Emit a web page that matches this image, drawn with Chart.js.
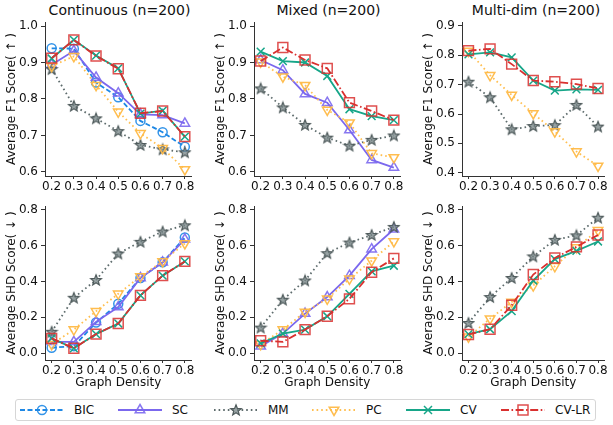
<!DOCTYPE html>
<html><head><meta charset="utf-8">
<script src="https://cdn.jsdelivr.net/npm/chart.js@4"></script>
<style>
body{margin:0;background:#fff;}
#wrap{position:relative;width:613px;height:425px;background:#fff;font-family:"DejaVu Sans",sans-serif;color:#111;overflow:hidden}
canvas{position:absolute}
.title{position:absolute;top:2px;font-size:14px;line-height:16px;white-space:nowrap;transform:translateX(-50%);color:#111}
#legend{position:absolute;left:15px;top:399px;width:581px;height:22px;border:1px solid #d6d6d6;border-radius:3px;box-sizing:border-box}
.lg{position:absolute;top:0;height:20px;display:flex;align-items:center;font-size:12px;color:#111;white-space:nowrap}
.lg svg{margin-right:10px}
</style>
</head><body>
<div id="wrap">
  <div class="title" style="left:119.5px">Continuous (n=200)</div>
  <div class="title" style="left:328.5px">Mixed (n=200)</div>
  <div class="title" style="left:536px">Multi-dim (n=200)</div>
  <canvas id="c1" width="200" height="196" style="left:0;top:0"></canvas>
  <canvas id="c2" width="200" height="196" style="left:209px;top:0"></canvas>
  <canvas id="c3" width="196" height="196" style="left:417px;top:0"></canvas>
  <canvas id="c4" width="200" height="196" style="left:0;top:196px"></canvas>
  <canvas id="c5" width="200" height="196" style="left:209px;top:196px"></canvas>
  <canvas id="c6" width="196" height="196" style="left:417px;top:196px"></canvas>
  <div id="legend"></div>
</div>
<script>
// ---------- data ----------
const densities = [0.2, 0.3, 0.4, 0.5, 0.6, 0.7, 0.8];
const xTickLabels = ['0.2', '0.3', '0.4', '0.5', '0.6', '0.7', '0.8'];
const methods = ['BIC', 'SC', 'MM', 'PC', 'CV', 'CV-LR'];

const f1TicksA = [0.6, 0.7, 0.8, 0.9, 1.0];
const f1TicksB = [0.4, 0.5, 0.6, 0.7, 0.8, 0.9];
const shdTicks = [0.0, 0.2, 0.4, 0.6, 0.8];

// Continuous F1
const contF1_BIC  = [0.939, 0.938, 0.845, 0.805, 0.740, 0.709, 0.669];
const contF1_SC   = [0.894, 0.932, 0.859, 0.816, 0.758, 0.756, 0.733];
const contF1_MM   = [0.882, 0.781, 0.747, 0.712, 0.674, 0.662, 0.654];
const contF1_PC   = [0.890, 0.917, 0.838, 0.765, 0.706, 0.665, 0.607];
const contF1_CV   = [0.911, 0.962, 0.919, 0.884, 0.760, 0.768, 0.697];
const contF1_CVLR = [0.912, 0.962, 0.918, 0.883, 0.761, 0.767, 0.697];
// Mixed F1
const mixF1_SC   = [0.907, 0.879, 0.814, 0.790, 0.715, 0.633, 0.612];
const mixF1_MM   = [0.829, 0.777, 0.729, 0.694, 0.672, 0.688, 0.700];
const mixF1_PC   = [0.902, 0.861, 0.838, 0.770, 0.735, 0.651, 0.640];
const mixF1_CV   = [0.930, 0.904, 0.900, 0.863, 0.772, 0.753, 0.742];
const mixF1_CVLR = [0.904, 0.941, 0.907, 0.884, 0.790, 0.767, 0.742];
// Multi-dim F1
const multiF1_MM   = [0.710, 0.657, 0.548, 0.559, 0.562, 0.631, 0.557];
const multiF1_PC   = [0.815, 0.732, 0.665, 0.602, 0.540, 0.472, 0.423];
const multiF1_CV   = [0.803, 0.810, 0.793, 0.714, 0.680, 0.684, 0.682];
const multiF1_CVLR = [0.816, 0.822, 0.770, 0.714, 0.710, 0.702, 0.687];
// Continuous SHD
const contSHD_BIC  = [0.031, 0.040, 0.171, 0.276, 0.419, 0.506, 0.644];
const contSHD_SC   = [0.064, 0.064, 0.175, 0.257, 0.419, 0.506, 0.634];
const contSHD_MM   = [0.120, 0.309, 0.408, 0.555, 0.620, 0.677, 0.712];
const contSHD_PC   = [0.050, 0.132, 0.234, 0.331, 0.427, 0.511, 0.611];
const contSHD_CV   = [0.083, 0.028, 0.107, 0.166, 0.322, 0.432, 0.511];
const contSHD_CVLR = [0.083, 0.028, 0.107, 0.166, 0.322, 0.432, 0.511];
// Mixed SHD
const mixSHD_SC   = [0.040, 0.110, 0.221, 0.313, 0.432, 0.579, 0.690];
const mixSHD_MM   = [0.143, 0.298, 0.405, 0.557, 0.616, 0.658, 0.703];
const mixSHD_PC   = [0.050, 0.132, 0.230, 0.303, 0.414, 0.515, 0.622];
const mixSHD_CV   = [0.055, 0.110, 0.132, 0.206, 0.331, 0.456, 0.487];
const mixSHD_CVLR = [0.070, 0.064, 0.132, 0.206, 0.303, 0.451, 0.528];
// Multi-dim SHD
const multiSHD_MM   = [0.169, 0.313, 0.419, 0.539, 0.631, 0.656, 0.754];
const multiSHD_PC   = [0.092, 0.193, 0.285, 0.377, 0.484, 0.589, 0.684];
const multiSHD_CV   = [0.107, 0.134, 0.235, 0.405, 0.524, 0.570, 0.622];
const multiSHD_CVLR = [0.105, 0.134, 0.267, 0.438, 0.530, 0.592, 0.658];

// ---------- styles ----------
const FONT = '"DejaVu Sans", sans-serif';
const STAR_FILL = 'rgba(118,132,133,0.75)';
const STAR_EDGE = '#4f5b5c';
function starCanvas(){
  const c = document.createElement('canvas'); c.width = 14; c.height = 14;
  const g = c.getContext('2d');
  g.beginPath();
  for (let i = 0; i < 10; i++) {
    const r = i % 2 === 0 ? 5.6 : 2.4;
    const a = -Math.PI/2 + i*Math.PI/5;
    const px = 7 + r*Math.cos(a), py = 7.4 + r*Math.sin(a);
    i === 0 ? g.moveTo(px, py) : g.lineTo(px, py);
  }
  g.closePath();
  g.fillStyle = STAR_FILL; g.fill();
  g.lineWidth = 1.2; g.strokeStyle = STAR_EDGE; g.stroke();
  return c;
}
const STAR = starCanvas();
const styles = {
  'BIC':   {color:'#1e88e5', pcolor:'rgba(30,136,229,0.9)',  dash:[5,2.5],          point:'circle',   r:4.5, rot:0},
  'SC':    {color:'#7b68ee', pcolor:'rgba(123,104,238,0.9)', dash:[],               point:'triangle', r:5.5, rot:0},
  'MM':    {color:'#5d6b6c', pcolor:STAR_EDGE,               dash:[1.6,3],          point:STAR,       r:6,   rot:0},
  'PC':    {color:'#ffbf50', pcolor:'rgba(255,185,70,0.95)', dash:[1.6,3],          point:'triangle', r:5.5, rot:180},
  'CV':    {color:'#17a689', pcolor:'#17a689',               dash:[],               point:'crossRot', r:5.5, rot:0},
  'CV-LR': {color:'#d9302f', pcolor:'rgba(217,48,47,0.85)',  dash:[8,2.5,1.6,2.5],  point:'rect',     r:7,   rot:0},
};

function makeChart(id, series, yMin, yMax, yTicks, yLabel, xTitle, rightPad, topPad, xAxisH){
  const datasets = series.map(([name, vals]) => {
    const s = styles[name];
    return {
      label: name,
      data: densities.map((d, i) => ({x: d, y: vals[i]})),
      borderColor: s.color, borderWidth: 1.8, borderDash: s.dash,
      pointStyle: s.point, pointRadius: s.r, pointRotation: s.rot,
      pointBorderColor: s.pcolor, pointBackgroundColor: 'rgba(0,0,0,0)', pointBorderWidth: 1.5,
      fill: false, tension: 0, order: 10 - methods.indexOf(name)
    };
  });
  new Chart(document.getElementById(id), {
    type: 'line',
    data: {datasets},
    options: {
      responsive: false, animation: false, devicePixelRatio: 1,
      layout: {padding: {left: 0, right: rightPad, top: topPad, bottom: 0}},
      plugins: {legend: {display: false}, tooltip: {enabled: false}},
      scales: {
        x: {
          type: 'linear', min: 0.17, max: 0.83,
          afterBuildTicks: s => { s.ticks = densities.map(v => ({value: v})); },
          afterFit: s => { s.height = xAxisH; },
          ticks: {autoSkip: false, maxRotation: 0, minRotation: 0, padding: 1, color: '#111',
                  font: {family: FONT, size: 12},
                  callback: (v, i) => xTickLabels[i]},
          grid: {display: true, drawOnChartArea: false, drawTicks: true, tickLength: 3, color: '#333'},
          border: {display: true, color: '#333', width: 1},
          title: {display: !!xTitle, text: xTitle || '', color: '#111', font: {family: FONT, size: 12}, padding: {top: 0, bottom: 2}}
        },
        y: {
          type: 'linear', min: yMin, max: yMax,
          afterBuildTicks: s => { s.ticks = yTicks.map(v => ({value: v})); },
          afterFit: s => { s.width = 45; },
          ticks: {autoSkip: false, padding: 3, color: '#111', font: {family: FONT, size: 12},
                  callback: v => v.toFixed(1)},
          grid: {display: true, drawOnChartArea: false, drawTicks: true, tickLength: 4, color: '#333'},
          border: {display: true, color: '#333', width: 1},
          title: {display: true, text: yLabel, color: '#111', font: {family: FONT, size: 12}, padding: {top: 5, bottom: 0}}
        }
      }
    }
  });
}

const F1L = 'Average F1 Score( \u2191 )';
const SHDL = 'Average SHD Score( \u2193 )';
makeChart('c1', [['BIC',contF1_BIC],['SC',contF1_SC],['MM',contF1_MM],['PC',contF1_PC],['CV',contF1_CV],['CV-LR',contF1_CVLR]],
  0.589, 1.011, f1TicksA, F1L, null, 6, 22, 20);
makeChart('c2', [['SC',mixF1_SC],['MM',mixF1_MM],['PC',mixF1_PC],['CV',mixF1_CV],['CV-LR',mixF1_CVLR]],
  0.589, 1.011, f1TicksA, F1L, null, 6, 22, 20);
makeChart('c3', [['MM',multiF1_MM],['PC',multiF1_PC],['CV',multiF1_CV],['CV-LR',multiF1_CVLR]],
  0.3887, 0.9136, f1TicksB, F1L, null, 3, 22, 20);
makeChart('c4', [['BIC',contSHD_BIC],['SC',contSHD_SC],['MM',contSHD_MM],['PC',contSHD_PC],['CV',contSHD_CV],['CV-LR',contSHD_CVLR]],
  -0.037, 0.818, shdTicks, SHDL, 'Graph Density', 6, 9, 32);
makeChart('c5', [['SC',mixSHD_SC],['MM',mixSHD_MM],['PC',mixSHD_PC],['CV',mixSHD_CV],['CV-LR',mixSHD_CVLR]],
  -0.037, 0.818, shdTicks, SHDL, 'Graph Density', 6, 9, 32);
makeChart('c6', [['MM',multiSHD_MM],['PC',multiSHD_PC],['CV',multiSHD_CV],['CV-LR',multiSHD_CVLR]],
  -0.037, 0.818, shdTicks, SHDL, 'Graph Density', 3, 9, 32);

// ---------- legend ----------
const legendLeft = [4, 102, 198, 296, 390, 485];
const lg = document.getElementById('legend');
function markerSVG(name){
  const s = styles[name];
  const c = s.pcolor;
  const cx = 22;
  switch(name){
    case 'BIC': return `<circle cx="${cx}" cy="7" r="4.5" fill="none" stroke="${c}" stroke-width="1.5"/>`;
    case 'SC': return `<polygon points="${cx},1.5 ${cx+4.8},9.8 ${cx-4.8},9.8" fill="none" stroke="${c}" stroke-width="1.5"/>`;
    case 'MM': {
      let p = [];
      for (let i = 0; i < 10; i++) { const r = i%2===0?5.6:2.4; const a=-Math.PI/2+i*Math.PI/5; p.push((cx+r*Math.cos(a)).toFixed(2)+','+(7.4+r*Math.sin(a)).toFixed(2)); }
      return `<polygon points="${p.join(' ')}" fill="${STAR_FILL}" stroke="${STAR_EDGE}" stroke-width="1.2"/>`;
    }
    case 'PC': return `<polygon points="${cx},12.5 ${cx+4.8},4.2 ${cx-4.8},4.2" fill="none" stroke="${c}" stroke-width="1.5"/>`;
    case 'CV': return `<path d="M${cx-4},3 L${cx+4},11 M${cx+4},3 L${cx-4},11" stroke="${c}" stroke-width="1.5"/>`;
    case 'CV-LR': return `<rect x="${cx-5}" y="2" width="10" height="10" fill="none" stroke="${c}" stroke-width="1.5"/>`;
  }
}
methods.forEach((m, i) => {
  const s = styles[m];
  const d = document.createElement('div');
  d.className = 'lg';
  d.style.left = legendLeft[i] + 'px';
  d.innerHTML = `<svg width="44" height="14" viewBox="0 0 44 14"><line x1="0" y1="7" x2="44" y2="7" stroke="${s.color}" stroke-width="1.8" stroke-dasharray="${s.dash.length ? s.dash.join(',') : 'none'}"/>${markerSVG(m)}</svg><span>${m}</span>`;
  lg.appendChild(d);
});
</script>
</body></html>
